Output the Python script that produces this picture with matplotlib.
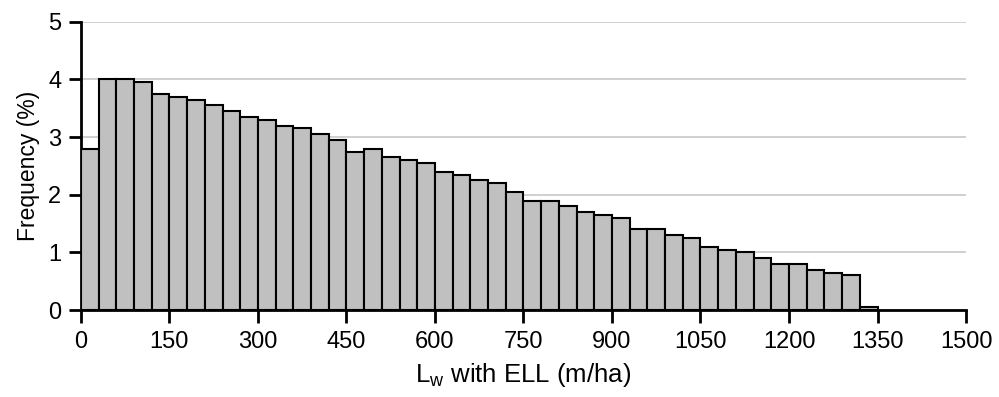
import numpy as np
import matplotlib.pyplot as plt

plt.rcParams["font.family"] = ["Liberation Sans", "DejaVu Sans"]

# Histogram of Lw with ELL, 30 m/ha bins
bin_width = 30
bin_starts = np.arange(0, 1350, bin_width)
freq = [2.8, 4.0, 4.0, 3.95, 3.75, 3.7, 3.65, 3.55, 3.45, 3.35,
        3.3, 3.2, 3.15, 3.05, 2.95, 2.75, 2.8, 2.65, 2.6, 2.55,
        2.4, 2.35, 2.25, 2.2, 2.05, 1.9, 1.9, 1.8, 1.7, 1.65,
        1.6, 1.4, 1.4, 1.3, 1.25, 1.1, 1.05, 1.0, 0.9, 0.8,
        0.8, 0.7, 0.65, 0.6, 0.05]
xticks = np.arange(0, 1501, 150)
yticks = [0, 1, 2, 3, 4, 5]

fig = plt.figure(figsize=(9.99, 3.97), dpi=100)
ax = fig.add_axes([0.081, 0.219, 0.886, 0.726])

ax.bar(bin_starts, freq, width=bin_width, align="edge",
       color="#c0c0c0", edgecolor="black", linewidth=1.5, zorder=3)

ax.set_xlim(0, 1500)
ax.set_ylim(0, 5)
ax.set_xticks(xticks)
ax.set_yticks(yticks)
ax.yaxis.grid(True, color="#c8c8c8", linewidth=1.2, zorder=0)

for side in ["top", "right"]:
    ax.spines[side].set_visible(False)
for side in ["left", "bottom"]:
    ax.spines[side].set_linewidth(2)
ax.tick_params(direction="out", length=9, width=2, labelsize=17)
ax.tick_params(axis="x", pad=6)
ax.tick_params(axis="y", pad=5)

ax.set_xlabel(r"L$_\mathregular{w}$ with ELL (m/ha)", fontsize=18.5, labelpad=6)
ax.set_ylabel("Frequency (%)", fontsize=16.5, labelpad=6)

fig.savefig("out.png", dpi=100)
